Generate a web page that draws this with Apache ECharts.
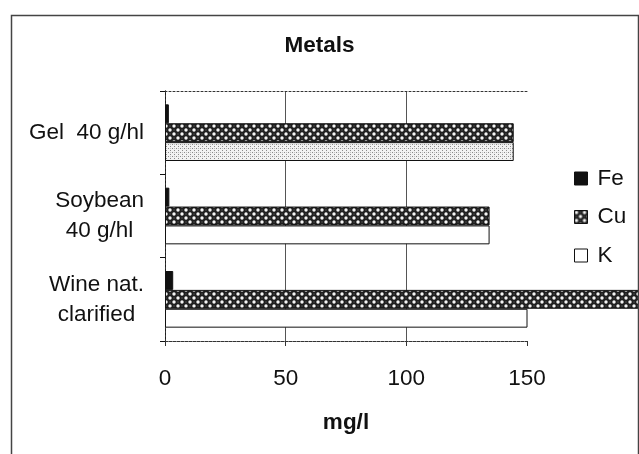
<!DOCTYPE html>
<html>
<head>
<meta charset="utf-8">
<script src="https://cdn.jsdelivr.net/npm/echarts@6/dist/echarts.min.js"></script>
<style>html,body{margin:0;padding:0;background:#fff;}#c{width:639px;height:454px;}</style>
</head>
<body>
<div id="c"></div>
<script>
const categories = ['Gel  40 g/hl', 'Soybean\n40 g/hl', 'Wine nat.\nclarified'];
const seriesNames = ['Fe', 'Cu', 'K'];
const feValues = [1.6, 1.8, 3.4];
const cuValues = [144.5, 134.5, 200];
const kValues = [144.5, 134.5, 155];
const xMin = 0, xMax = 150, xInterval = 50;

const FONT = "'Liberation Sans', Arial, sans-serif";
const FS = 22.5;

function makeCuPattern() {
  const c = document.createElement('canvas');
  c.width = 8; c.height = 8;
  const g = c.getContext('2d');
  g.fillStyle = '#1e1e1e'; g.fillRect(0, 0, 8, 8);
  g.fillStyle = '#f4f4f4';
  g.beginPath(); g.arc(2, 2, 1.7, 0, Math.PI * 2); g.fill();
  g.beginPath(); g.arc(6, 6, 1.7, 0, Math.PI * 2); g.fill();
  g.fillStyle = '#777';
  g.fillRect(5.5, 1.5, 1, 1);
  g.fillRect(1.5, 5.5, 1, 1);
  return c;
}
function makeStipple() {
  const c = document.createElement('canvas');
  c.width = 4; c.height = 4;
  const g = c.getContext('2d');
  g.fillStyle = '#f2f2f2'; g.fillRect(0, 0, 4, 4);
  g.fillStyle = '#8a8a8a';
  g.fillRect(0, 0, 1, 1);
  g.fillRect(2, 2, 1, 1);
  g.fillStyle = '#c0c0c0';
  g.fillRect(2, 0, 1, 1);
  return c;
}
const cuFill = { image: makeCuPattern(), repeat: 'repeat' };
const stippleFill = { image: makeStipple(), repeat: 'repeat' };

const chart = echarts.init(document.getElementById('c'), null, { renderer: 'canvas' });

const barBase = { type: 'bar', barGap: '0%', barCategoryGap: '32%' };
const border = { borderColor: '#111', borderWidth: 1 };

chart.setOption({
  backgroundColor: '#fff',
  animation: false,
  title: {
    text: 'Metals', left: 'center', top: 29,
    textStyle: { fontFamily: FONT, fontSize: FS, fontWeight: 'bold', color: '#111' }
  },
  legend: {
    orient: 'vertical', left: 574, top: 167, padding: 0, itemWidth: 13, itemHeight: 13, itemGap: 15.5,
    textStyle: { fontFamily: FONT, fontSize: FS, color: '#111', lineHeight: 22, padding: [0, 0, 0, 5] },
    data: [
      { name: 'Fe', icon: 'rect', itemStyle: { color: '#111', borderColor: '#111', borderWidth: 1 } },
      { name: 'Cu', icon: 'rect', itemStyle: { color: cuFill, borderColor: '#111', borderWidth: 1 } },
      { name: 'K', icon: 'rect', itemStyle: { color: '#fff', borderColor: '#111', borderWidth: 1 } }
    ]
  },
  grid: { left: 165, right: 112, top: 91, bottom: 113, containLabel: false },
  xAxis: [{
    type: 'value', min: xMin, max: xMax, interval: xInterval, position: 'bottom',
    name: 'mg/l', nameLocation: 'middle', nameGap: 70,
    nameTextStyle: { fontFamily: FONT, fontSize: FS, fontWeight: 'bold', color: '#111' },
    axisLine: { show: true, lineStyle: { color: '#333', width: 1, type: [3, 1] } },
    axisTick: { show: true, length: 5, lineStyle: { color: '#333' } },
    axisLabel: { fontFamily: FONT, fontSize: FS, color: '#111', margin: 26 },
    splitLine: { show: true, showMinLine: false, showMaxLine: false, lineStyle: { color: '#555', width: 1 } }
  }, {
    type: 'value', min: xMin, max: xMax, interval: xInterval, position: 'top',
    axisLine: { show: true, lineStyle: { color: '#333', width: 1, type: [2, 2] } },
    axisTick: { show: false }, axisLabel: { show: false }, splitLine: { show: false }
  }],
  yAxis: [{
    type: 'category', data: categories, inverse: true, position: 'left',
    axisLine: { show: true, lineStyle: { color: '#111', width: 1 } },
    axisTick: { show: true, length: 5, lineStyle: { color: '#111' } },
    axisLabel: {
      fontFamily: FONT, fontSize: FS, color: '#111', margin: 21, align: 'right',
      formatter: v => v.split('\n').map(s => '{c|' + s + '}').join('\n'),
      rich: { c: { align: 'center', fontFamily: FONT, fontSize: FS, lineHeight: 30, color: '#111' } }
    },
    splitLine: { show: false }
  }, {
    type: 'category', data: categories, inverse: true, position: 'right',
    axisLine: { show: true, lineStyle: { color: '#333', width: 1, type: [2, 2] } },
    axisTick: { show: false }, axisLabel: { show: false }, splitLine: { show: false }
  }],
  series: [
    Object.assign({}, barBase, { name: seriesNames[0], data: feValues, itemStyle: Object.assign({ color: '#111' }, border) }),
    Object.assign({}, barBase, { name: seriesNames[1], data: cuValues, clip: false, itemStyle: Object.assign({ color: cuFill }, border) }),
    Object.assign({}, barBase, {
      name: seriesNames[2],
      data: kValues.map((v, i) => i === 0 ? { value: v, itemStyle: { color: stippleFill } } : v),
      clip: true, itemStyle: Object.assign({ color: '#fff' }, border)
    })
  ],
  graphic: [{
    type: 'rect', left: 9, top: 13, z: 100, silent: true,
    shape: { width: 627, height: 460 },
    style: { fill: 'none', stroke: '#444', lineWidth: 1.5 }
  }]
});
</script>
</body>
</html>
